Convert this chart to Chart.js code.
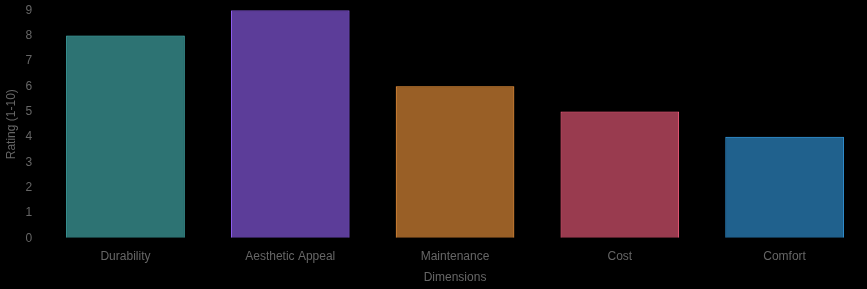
<!DOCTYPE html>
<html>
<head>
<meta charset="utf-8">
<script src="https://cdn.jsdelivr.net/npm/chart.js@4"></script>
<style>
  html, body { margin: 0; padding: 0; background: #000; }
  #wrap { width: 867px; height: 289px; }
</style>
</head>
<body>
<div id="wrap"><canvas id="myChart"></canvas></div>
<script>
const dimensions = ['Durability', 'Aesthetic Appeal', 'Maintenance', 'Cost', 'Comfort']
const ratings = [8, 9, 6, 5, 4]
const fillColors = [
  'rgba(75, 192, 192, 0.6)',
  'rgba(153, 102, 255, 0.6)',
  'rgba(255, 159, 64, 0.6)',
  'rgba(255, 99, 132, 0.6)',
  'rgba(54, 162, 235, 0.6)',
]
const lineColors = [
  'rgba(75, 192, 192, 1)',
  'rgba(153, 102, 255, 1)',
  'rgba(255, 159, 64, 1)',
  'rgba(255, 99, 132, 1)',
  'rgba(54, 162, 235, 1)',
]

Chart.defaults.font.family = '"Liberation Sans", Arial, Helvetica, sans-serif'

const config = {
  type: 'bar',
  data: {
    labels: dimensions,
    datasets: [
      {
        label: 'Rating',
        data: ratings,
        backgroundColor: fillColors,
        borderColor: lineColors,
        borderWidth: 1,
      },
    ],
  },
  options: {
    responsive: true,
    maintainAspectRatio: false,
    animation: false,
    plugins: {
      legend: { display: false },
    },
    scales: {
      x: {
        title: { display: true, text: 'Dimensions' },
      },
      y: {
        beginAtZero: true,
        title: { display: true, text: 'Rating (1-10)' },
      },
    },
  },
}

new Chart(document.getElementById('myChart'), config)
</script>
</body>
</html>
